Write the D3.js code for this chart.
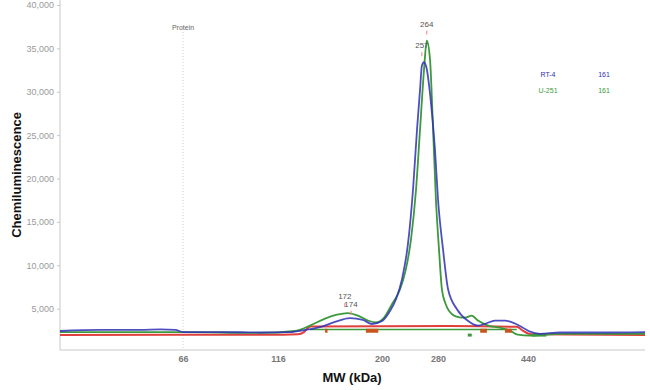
<!DOCTYPE html>
<html>
<head>
<meta charset="utf-8">
<script src="https://cdn.jsdelivr.net/npm/d3@7"></script>
<style>
  body { margin:0; background:#fff; }
  svg { font-family: "Liberation Sans", Arial, sans-serif; }
</style>
</head>
<body>
<svg id="chart"></svg>
<script>
// size standard ticks (kDa)
var mwTicks = [66, 116, 200, 280, 440];
var yTicks = [5000, 10000, 15000, 20000, 25000, 30000, 35000, 40000];

// RT-4 trace  [MW, signal]
var rt4 = [[0,2420],[21.5,2540],[43,2540],[54,2600],[62,2540],[66,2300],[85.5,2300],[106.5,2250],
  [125.7,2300],[137.8,2540],[150,2880],[162,3460],[174,3900],[184.5,3690],[192,3230],[200,3570],
  [211.4,4730],[220,6100],[228.6,8400],[237,12400],[244.3,18700],[250,25600],[254.3,30200],
  [257,33000],[260,33400],[264,32600],[269,29500],[275.7,23300],[280,17600],[289,11800],
  [298,7200],[314,4900],[333,3600],[351,3050],[365,3280],[381,3620],[399,3620],
  [417,3280],[431,2800],[443.6,2340],[461.5,2100],[497,2250],[569,2250],[650,2300]];

// U-251 trace
var u251 = [[0,2300],[66,2300],[106.5,2200],[129.7,2420],[141.8,3040],[154,3850],[163.6,4300],
  [172,4490],[180.6,4200],[188.7,3620],[195,3400],[203,3970],[214,5470],[225.7,7200],[234,9500],
  [241.4,12960],[248.6,18700],[254.3,25600],[260,32500],[264,35900],[268.6,33700],[273,25600],
  [277,17600],[281.8,11800],[287,7200],[294,5470],[306,4300],[318,4000],[328,3960],[340,4200],[351,3620],
  [369,3050],[390,2800],[408,2470],[422,2000],[443.6,1900],[470.5,2000],[497,2100],[650,2100]];

// baselines
var redBase = [[0,1950],[66,2000],[120,2000],[132,2050],[137,2300],[142,2950],[300,3000],[420,2900],[430,2500],[445,2050],[650,1950]];
var greenBase = [[142,2600],[420,2600]];
var orangeMarks = [[154,156],[187,197],[355,367],[399,411]];
var greenMarks = [[333,340],[447,473]];

var peaks = [
  {mw:264, val:35900, text:"264"},
  {mw:257, val:33400, text:"257"},
  {mw:170, val:4490, text:"172"},
  {mw:175, val:3600, text:"174"}
];
var legendNames = ["RT-4", "U-251"];
var legendVals = ["161", "161"];
var colors = ["#2f2fb8", "#3c9a3c"];

var svg = d3.select("#chart").attr("width", 650).attr("height", 390);

var xScale = d3.scaleLinear()
  .domain([0, 66, 116, 200, 280, 440, 650])
  .range([60, 183, 278, 382, 438, 528, 645]);
var yScale = d3.scaleLinear().domain([0, 40000]).range([352, 5]);

// axes lines
svg.append("line").attr("x1", 60).attr("x2", 60).attr("y1", 0).attr("y2", 350)
  .attr("stroke", "#c8c8c8");
svg.append("line").attr("x1", 60).attr("x2", 645).attr("y1", 350).attr("y2", 350)
  .attr("stroke", "#c8c8c8");

var yAxis = d3.axisLeft(yScale).tickValues(yTicks).tickSize(3).tickFormat(d3.format(","));
var gy = svg.append("g").attr("transform", "translate(60,0)").call(yAxis);
gy.select(".domain").remove();
gy.selectAll("line").attr("stroke", "#c8c8c8");
gy.selectAll("text").attr("fill", "#9a9a9a").attr("font-size", 9);

var xAxis = d3.axisBottom(xScale).tickValues(mwTicks).tickSize(0).tickPadding(6);
var gx = svg.append("g").attr("transform", "translate(0,350)").call(xAxis);
gx.select(".domain").remove();
gx.selectAll("text").attr("fill", "#777").attr("font-size", 9).attr("font-weight", "bold");

// protein marker
svg.append("line").attr("x1", xScale(66)).attr("x2", xScale(66)).attr("y1", 32).attr("y2", 350)
  .attr("stroke", "#cfcfcf").attr("stroke-dasharray", "1,2");
svg.append("text").attr("x", xScale(66)).attr("y", 30).attr("text-anchor", "middle")
  .attr("font-size", 7).attr("fill", "#666").text("Protein");

var line = d3.line().x(function(d){ return xScale(d[0]); }).y(function(d){ return yScale(d[1]); })
  .curve(d3.curveMonotoneX);

svg.append("path").datum(greenBase).attr("d", line).attr("fill", "none")
  .attr("stroke", "#3c9a3c").attr("stroke-width", 1.5);
svg.append("path").datum(redBase).attr("d", line).attr("fill", "none")
  .attr("stroke", "#e0403c").attr("stroke-width", 2);

svg.selectAll(".gmark").data(greenMarks).enter().append("line")
  .attr("x1", function(d){ return xScale(d[0]); }).attr("x2", function(d){ return xScale(d[1]); })
  .attr("y1", yScale(1950)).attr("y2", yScale(1950))
  .attr("stroke", "#3c9a3c").attr("stroke-width", 3);

svg.append("path").datum(u251).attr("d", line).attr("fill", "none")
  .attr("stroke", colors[1]).attr("stroke-width", 1.8);
svg.append("path").datum(rt4).attr("d", line).attr("fill", "none")
  .attr("stroke", colors[0]).attr("stroke-width", 1.8).attr("stroke-opacity", 0.85);

svg.selectAll(".omark").data(orangeMarks).enter().append("line")
  .attr("x1", function(d){ return xScale(d[0]); }).attr("x2", function(d){ return xScale(d[1]); })
  .attr("y1", yScale(2450)).attr("y2", yScale(2450))
  .attr("stroke", "#c8561c").attr("stroke-width", 4);

// peak labels
svg.selectAll(".ptick").data(peaks).enter().append("line")
  .attr("x1", function(d){ return xScale(d.mw); }).attr("x2", function(d){ return xScale(d.mw); })
  .attr("y1", function(d){ return yScale(d.val) - 10; }).attr("y2", function(d){ return yScale(d.val) - 6; })
  .attr("stroke", "#f08080").attr("stroke-width", 1);
svg.selectAll(".plabel").data(peaks).enter().append("text")
  .attr("x", function(d){ return xScale(d.mw); })
  .attr("y", function(d){ return yScale(d.val) - 14; })
  .attr("text-anchor", "middle").attr("font-size", 8).attr("fill", "#555")
  .text(function(d){ return d.text; });

// legend
legendNames.forEach(function(n, i){
  svg.append("text").attr("x", 548).attr("y", 77 + i * 16).attr("text-anchor", "middle")
    .attr("font-size", 7).attr("fill", colors[i]).text(n);
  svg.append("text").attr("x", 604).attr("y", 77 + i * 16).attr("text-anchor", "middle")
    .attr("font-size", 7).attr("fill", colors[i]).text(legendVals[i]);
});

// axis titles
svg.append("text").attr("transform", "translate(21,175) rotate(-90)").attr("text-anchor", "middle")
  .attr("font-size", 13).attr("font-weight", "bold").attr("fill", "#111").text("Chemiluminescence");
svg.append("text").attr("x", 352).attr("y", 382).attr("text-anchor", "middle")
  .attr("font-size", 13).attr("font-weight", "bold").attr("fill", "#111").text("MW (kDa)");
</script>
</body>
</html>
